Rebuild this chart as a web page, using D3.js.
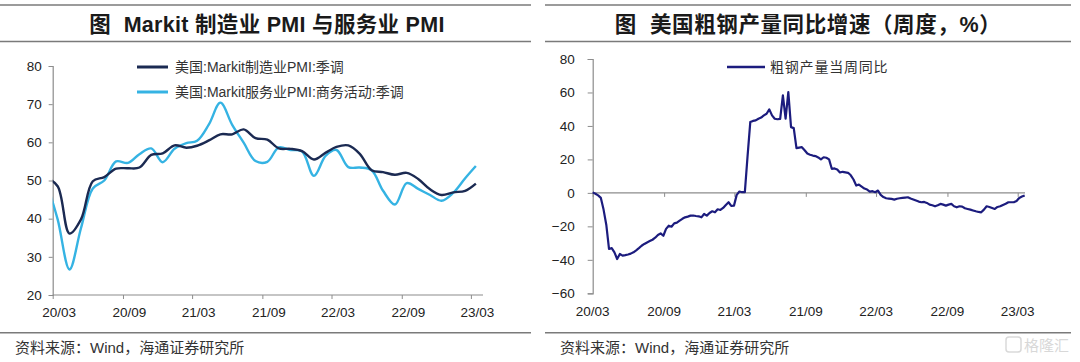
<!DOCTYPE html>
<html><head><meta charset="utf-8">
<script src="https://cdn.jsdelivr.net/npm/d3@7"></script>
<style>
html,body{margin:0;padding:0;background:#fff;}
svg{display:block;font-family:"Liberation Sans",Arial,"Noto Sans CJK SC",sans-serif;}
</style></head>
<body>
<svg id="c" width="1080" height="362"></svg>
<script>
// ---------- data ----------
const pmiMonths = ["2020-02","2020-03","2020-04","2020-05","2020-06","2020-07","2020-08","2020-09","2020-10","2020-11","2020-12",
  "2021-01","2021-02","2021-03","2021-04","2021-05","2021-06","2021-07","2021-08","2021-09","2021-10","2021-11","2021-12",
  "2022-01","2022-02","2022-03","2022-04","2022-05","2022-06","2022-07","2022-08","2022-09","2022-10","2022-11","2022-12",
  "2023-01","2023-02","2023-03"];
const mfgPMI = [50.7,48.5,36.1,39.8,49.8,50.9,53.1,53.2,53.4,56.7,57.1,
  59.2,58.6,59.1,60.5,62.1,62.1,63.4,61.1,60.7,58.4,58.3,57.7,
  55.5,57.3,58.8,59.2,57.0,52.7,52.2,51.5,52.0,50.4,47.7,46.2,
  46.9,47.3,49.2];
const svcPMI = [49.4,39.8,26.7,37.5,47.9,50.0,55.0,54.6,56.9,58.4,54.8,
  58.3,59.8,60.4,64.7,70.4,64.6,59.9,55.1,54.9,58.7,58.0,57.6,
  51.2,56.5,58.0,53.5,53.4,52.7,47.3,43.7,49.3,47.8,46.2,44.7,
  46.8,50.6,53.8];
const pmiSeriesNames = ["美国:Markit制造业PMI:季调","美国:Markit服务业PMI:商务活动:季调"];
const pmiTicks = [20,30,40,50,60,70,80];

const steelStart = "2020-03-01"; // first weekly observation
const steelYoY = [0.3,-0.5,-1.5,-3,-10,-19,-33.5,-33,-35.5,-39.5,
  -36.5,-37.5,-37.2,-36.8,-36.3,-35.5,-34.3,-33,-31.6,-30.5,
  -29.6,-28.8,-28,-26.8,-25.2,-24.2,-25.6,-21.5,-19.6,-20.2,
  -18.2,-17.8,-16.6,-15.5,-14.6,-14.2,-13.6,-13.5,-13.8,-14,
  -14.6,-12.6,-13.6,-12,-11,-11.6,-9.8,-10.2,-9,-7.2,
  -5.6,-7.8,-7.6,-1.2,0.8,0.4,0.5,22,42.3,43,
  43.3,44.3,45,46.3,47.3,49.9,46.3,44.3,44,44.2,
  58.3,44.3,60.2,39.3,38.7,26.7,27,27.3,25.5,23.5,
  22.8,22.3,22,21.2,20,21.3,21,20,14.4,14.6,
  14,12.2,12.6,12.3,12,10.5,8,4.4,5,3.8,
  2.6,2,0.8,1,0.4,1.4,-1.2,-2.5,-3.2,-3.4,
  -3.6,-4,-3.5,-3.2,-3,-2.8,-2.6,-3.4,-4,-4.6,
  -5.2,-5.6,-5.4,-6,-7,-7.4,-8,-7.4,-6.6,-7,
  -7.6,-7,-6.6,-8,-8.6,-8,-8.2,-9.2,-9.6,-10,
  -10.5,-11,-11.4,-11.6,-10,-8,-8.4,-9,-9.6,-8.4,
  -8,-7.2,-6.5,-5.6,-5.6,-5.6,-4.8,-3,-2.2,-1.6];
const steelName = "粗钢产量当周同比";
const steelTicks = [-60,-40,-20,0,20,40,60,80];

const xTickDates = ["2020-03","2020-09","2021-03","2021-09","2022-03","2022-09","2023-03"];
const xTickLabels = ["20/03","20/09","21/03","21/09","22/03","22/09","23/03"];

const titles = ["图  Markit 制造业 PMI 与服务业 PMI","图  美国粗钢产量同比增速（周度，%）"];
const sourceText = "资料来源：Wind，海通证券研究所";

// ---------- helpers ----------
const svg = d3.select("#c");
const pm = d3.timeParse("%Y-%m");
const pd = d3.timeParse("%Y-%m-%d");
const tickDates = xTickDates.map(pm);
const axisCol = "#8c8c8c";
const ruleCol = "#7a7a7a";

function frame(x0, x1, titleX, title, weight, size, ls) {
  svg.append("line").attr("x1",x0).attr("x2",x1).attr("y1",5).attr("y2",5).attr("stroke",ruleCol).attr("stroke-width",1.6);
  svg.append("line").attr("x1",x0).attr("x2",x1).attr("y1",41.5).attr("y2",41.5).attr("stroke",ruleCol).attr("stroke-width",1.6);
  svg.append("text").attr("x",titleX).attr("y",31.5).attr("text-anchor","middle")
    .attr("font-size",size).attr("font-weight",weight).attr("letter-spacing",ls).attr("fill","#1a1a1a")
    .style("white-space","pre").attr("xml:space","preserve").text(title);
  svg.append("line").attr("x1",x0).attr("x2",x1).attr("y1",332.7).attr("y2",332.7).attr("stroke",ruleCol).attr("stroke-width",1.6);
}

// ================= LEFT CHART =================
frame(0, 531, 267, titles[0], "bold", 21.5, 0.3);
svg.append("text").attr("x",15).attr("y",353).attr("font-size",15).attr("fill","#333").text(sourceText);

const xL = d3.scaleTime().domain([pm("2020-03"), pm("2023-03")]).range([52.7, 470.9]);
const yL = d3.scaleLinear().domain([20,80]).range([295,66]);

const gL = svg.append("g");
const yAxL = d3.axisLeft(yL).tickValues(pmiTicks).tickSize(4).tickPadding(7);
const gy = gL.append("g").attr("transform","translate(52.7,0)").call(yAxL);
gy.select(".domain").attr("stroke",axisCol).attr("stroke-width",1.2);
gy.selectAll(".tick line").attr("stroke",axisCol);
gy.selectAll("text").attr("font-size",13.5).attr("fill","#222").attr("font-family","Liberation Sans, Arial");

const xAxL = d3.axisBottom(xL).tickValues(tickDates).tickFormat((d,i)=>xTickLabels[i]).tickSize(4).tickPadding(8);
const gx = gL.append("g").attr("transform","translate(0,295)").call(xAxL);
gx.select(".domain").remove();
gx.append("line").attr("x1",52.7).attr("x2",483).attr("stroke",axisCol).attr("stroke-width",1.2);
gx.selectAll(".tick line").attr("stroke",axisCol);
gx.selectAll("text").attr("font-size",13.5).attr("fill","#222").attr("dx",6).attr("font-family","Liberation Sans, Arial");

svg.append("clipPath").attr("id","clipL").append("rect").attr("x",52.7).attr("y",40).attr("width",440).attr("height",260);
const pmiX = (m) => xL(d3.timeDay.offset(pm(m), 13));
const lineL = d3.line().x((d,i)=>pmiX(pmiMonths[i])).y(d=>yL(d)).curve(d3.curveCatmullRom.alpha(0.5));
const pmiColors = ["#1b2a52","#35b3e3"];
gL.append("path").datum(svcPMI).attr("clip-path","url(#clipL)").attr("d",lineL)
  .attr("fill","none").attr("stroke",pmiColors[1]).attr("stroke-width",2.4);
gL.append("path").datum(mfgPMI).attr("clip-path","url(#clipL)").attr("d",lineL)
  .attr("fill","none").attr("stroke",pmiColors[0]).attr("stroke-width",2.4);

[0,1].forEach(i=>{
  const y = 67 + i*25;
  svg.append("line").attr("x1",137).attr("x2",168).attr("y1",y).attr("y2",y).attr("stroke",pmiColors[i]).attr("stroke-width",3);
  svg.append("text").attr("x",175).attr("y",y+5).attr("font-size",14).attr("fill","#333").text(pmiSeriesNames[i]);
});

// ================= RIGHT CHART =================
frame(545, 1071, 808, titles[1], "bold", 21.5, 0.6);
svg.append("text").attr("x",560).attr("y",353).attr("font-size",15).attr("fill","#333").text(sourceText);

const xR = d3.scaleTime().domain([pm("2020-03"), pm("2023-03")]).range([592.7, 1017.7]);
const yR = d3.scaleLinear().domain([-60,80]).range([293.3,59]);
const gR = svg.append("g");
const yAxR = d3.axisLeft(yR).tickValues(steelTicks).tickSize(5).tickPadding(13);
const gyR = gR.append("g").attr("transform","translate(592.7,0)").call(yAxR);
gyR.select(".domain").attr("stroke",axisCol).attr("stroke-width",1.2);
gyR.selectAll(".tick line").attr("stroke",axisCol);
gyR.selectAll("text").attr("font-size",13.5).attr("fill","#222").attr("font-family","Liberation Sans, Arial");

const xAxR = d3.axisBottom(xR).tickValues(tickDates).tickFormat(()=>"").tickSize(4);
const gxR = gR.append("g").attr("transform",`translate(0,${yR(0)})`).call(xAxR);
gxR.select(".domain").remove();
gxR.append("line").attr("x1",592.7).attr("x2",1025).attr("stroke",axisCol).attr("stroke-width",1.2);
gxR.selectAll(".tick line").attr("stroke",axisCol);
gR.selectAll("text.xl").data(tickDates).join("text").attr("class","xl")
  .attr("x",d=>xR(d)).attr("y",316).attr("text-anchor","middle")
  .attr("font-size",13.5).attr("fill","#222").attr("font-family","Liberation Sans, Arial")
  .text((d,i)=>xTickLabels[i]);

const s0 = pd(steelStart);
const lineR = d3.line().x((d,i)=>xR(d3.timeDay.offset(s0, 7*i))).y(d=>yR(d));
gR.append("path").datum(steelYoY).attr("d",lineR).attr("fill","none")
  .attr("stroke","#1c1c7e").attr("stroke-width",2.2).attr("stroke-linejoin","round");

svg.append("line").attr("x1",727).attr("x2",765).attr("y1",67).attr("y2",67).attr("stroke","#1c1c7e").attr("stroke-width",2.5);
svg.append("text").attr("x",770).attr("y",72).attr("font-size",14).attr("letter-spacing",0.8).attr("fill","#333").text(steelName);

const wm = svg.append("g").attr("opacity",0.45);
wm.append("rect").attr("x",1006).attr("y",337).attr("width",15).attr("height",15).attr("rx",3).attr("fill","none").attr("stroke","#aaa").attr("stroke-width",1.5);
wm.append("text").attr("x",1024).attr("y",351).attr("font-size",15).attr("fill","#aaa").text("格隆汇");
</script>
</body></html>
